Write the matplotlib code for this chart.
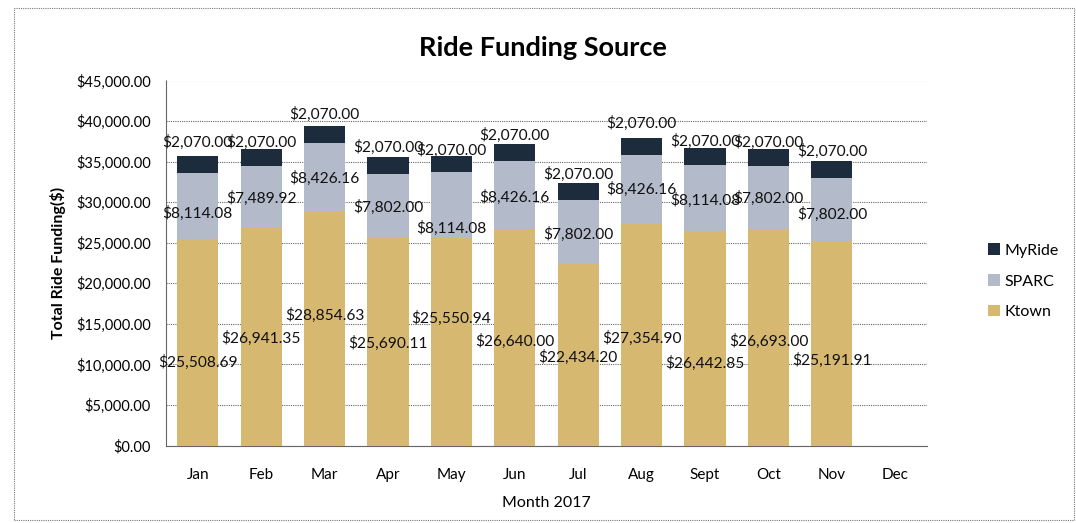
import matplotlib
matplotlib.use("Agg")
import matplotlib.pyplot as plt
from matplotlib.patches import Rectangle
from matplotlib.ticker import FuncFormatter, MultipleLocator
import numpy as np

plt.rcParams['font.family'] = ['Lato', 'DejaVu Sans']

months = ["Jan", "Feb", "Mar", "Apr", "May", "Jun", "Jul", "Aug", "Sept", "Oct", "Nov", "Dec"]
ktown = [25508.69, 26941.35, 28854.63, 25690.11, 25550.94, 26640.00, 22434.20, 27354.90, 26442.85, 26693.00, 25191.91]
sparc = [8114.08, 7489.92, 8426.16, 7802.00, 8114.08, 8426.16, 7802.00, 8426.16, 8114.08, 7802.00, 7802.00]
myride = [2070.00] * 11

# label anchor heights (data units), as placed in the reference
ktown_label_y = [10284, 13173, 16049, 12630, 15716, 12877, 10901, 13247, 10160, 12877, 10494]
sparc_label_y = [28605, 30457, 32926, 29346, 26753, 30580, 26049, 31568, 30247, 30457, 28519]
myride_label_y = [37321, 37321, 40864, 36753, 36420, 38272, 33420, 39716, 37444, 37321, 36210]

c_ktown = "#d6b870"
c_sparc = "#b3bbcb"
c_myride = "#1d2c3c"

W, H = 1076, 523
fig = plt.figure(figsize=(W / 100, H / 100), dpi=100)
ax = fig.add_axes([166 / W, 1 - 445.5 / H, (927 - 166) / W, (445.5 - 80.5) / H])

x = np.arange(len(ktown))
bw = 0.65
k = np.array(ktown)
s = np.array(sparc)
m = np.array(myride)
ax.bar(x, k, bw, color=c_ktown, label="Ktown", zorder=3)
ax.bar(x, s, bw, bottom=k, color=c_sparc, label="SPARC", zorder=3)
ax.bar(x, m, bw, bottom=k + s, color=c_myride, label="MyRide", zorder=3)

def money(v):
    return "${:,.2f}".format(v)

lab_fs = 11.2
for i in range(len(ktown)):
    ax.text(x[i], ktown_label_y[i], money(ktown[i]), ha="center", va="center", fontsize=lab_fs, color="#111111", zorder=5)
    ax.text(x[i], sparc_label_y[i], money(sparc[i]), ha="center", va="center", fontsize=lab_fs, color="#111111", zorder=5)
    ax.text(x[i], myride_label_y[i], money(myride[i]), ha="center", va="center", fontsize=lab_fs, color="#111111", zorder=5)

ax.set_xlim(-0.5, len(months) - 0.5)
ax.set_ylim(0, 45000)
ax.set_xticks(np.arange(len(months)))
ax.set_xticklabels(months, fontsize=11)
ax.yaxis.set_major_locator(MultipleLocator(5000))
ax.yaxis.set_major_formatter(FuncFormatter(lambda v, p: money(v)))
ax.tick_params(axis="y", labelsize=10.5, length=0, pad=11)
ax.tick_params(axis="x", length=0, pad=16)
ax.grid(axis="y", color="#666666", linestyle=(0, (1, 1)), linewidth=0.8, zorder=0)
for side in ["right", "top"]:
    ax.spines[side].set_visible(False)
for side in ["left", "bottom"]:
    ax.spines[side].set_color("#666666")
    ax.spines[side].set_linestyle((0, (1, 1)))
    ax.spines[side].set_linewidth(0.8)

ax.set_ylabel("Total Ride Funding($)", fontsize=11.5, fontweight="bold", labelpad=7)
ax.set_xlabel("Month 2017", fontsize=11.5, labelpad=10)
fig.text(543 / W, 1 - 48 / H, "Ride Funding Source", ha="center", va="center", fontsize=19.5, fontweight="bold")

handles, labels = ax.get_legend_handles_labels()
leg = fig.legend(handles[::-1], labels[::-1], loc="upper left", bbox_to_anchor=(974 / W, 1 - 229 / H),
                 frameon=False, fontsize=11.5, handlelength=0.7, handleheight=0.7, handletextpad=0.3,
                 labelspacing=1.05)

fig.patches.append(Rectangle((14 / W, 1 - 520 / H), (1074 - 14) / W, (520 - 8) / H, transform=fig.transFigure,
                             fill=False, edgecolor="#777777", linestyle=(0, (1, 1)), linewidth=0.8))

fig.savefig("out.png", dpi=100)
